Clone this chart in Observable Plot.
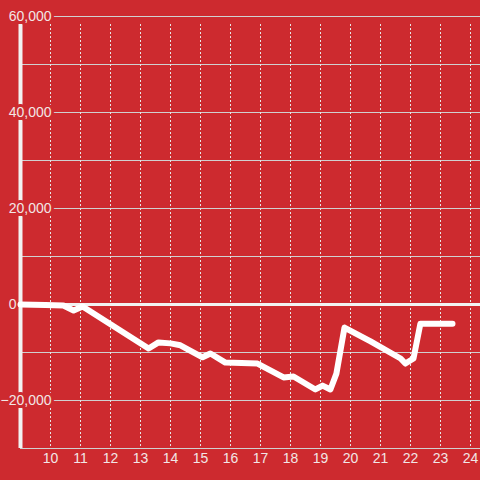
<!DOCTYPE html>
<html>
<head>
<meta charset="utf-8">
<script src="https://cdn.jsdelivr.net/npm/d3@7"></script>
<script src="https://cdn.jsdelivr.net/npm/@observablehq/plot@0.6"></script>
<style>
  html, body { margin: 0; padding: 0; background: #cd2a2f; }
  #chart { width: 480px; height: 480px; }
</style>
</head>
<body>
<div id="chart"></div>
<script>
const hours = [9.0, 9.83, 10.43, 10.77, 11.07, 13.27, 13.6, 14.0, 14.33, 15.07, 15.33, 15.83, 16.9, 17.77, 18.1, 18.83, 19.07, 19.33, 19.53, 19.8, 20.67, 21.67, 21.83, 22.1, 22.33, 23.4];
const values = [0, -100, -200, -1250, -400, -9170, -7900, -8100, -8500, -11000, -10200, -12100, -12300, -15200, -15000, -17700, -16900, -17700, -14400, -4800, -7700, -11250, -12300, -11250, -4000, -4000];
const xTicks = [10, 11, 12, 13, 14, 15, 16, 17, 18, 19, 20, 21, 22, 23, 24];
const yGrid = [-30000, -20000, -10000, 0, 10000, 20000, 30000, 40000, 50000, 60000];
const yLabels = [60000, 40000, 20000, -20000];

const data = hours.map((h, i) => ({h, v: values[i]}));
const bg = "#cd2a2f";
const txt = "#f2e6e6";
const fmt = d3.format(",");

const chart = Plot.plot({
  width: 480,
  height: 480,
  marginLeft: 20,
  marginRight: 0,
  marginTop: 16,
  marginBottom: 32,
  style: {background: bg, fontFamily: "'Liberation Sans', Arial, sans-serif"},
  x: {domain: [9, 24 + 1/3], axis: null},
  y: {domain: [-30000, 60000], axis: null},
  marks: [
    Plot.ruleY(yGrid, {stroke: "#d0d0d0", strokeWidth: 1}),
    Plot.ruleX(xTicks, {stroke: "#e6e6e6", strokeWidth: 1, strokeDasharray: "2,2", insetTop: 8}),
    Plot.ruleY([0], {stroke: "#f2f2f2", strokeWidth: 3}),
    Plot.ruleX([9], {stroke: "#f2f2f2", strokeWidth: 4, insetTop: 8}),
    Plot.line(data, {x: "h", y: "v", stroke: "#ffffff", strokeWidth: 6, strokeLinejoin: "round"}),
    Plot.text(yLabels, {x: 9, y: d => d, text: d => fmt(d), textAnchor: "end", dx: 31, fontSize: 14, fill: txt, stroke: bg, strokeWidth: 6}),
    Plot.text([0], {x: 9, y: d => d, text: d => fmt(d), textAnchor: "end", dx: -4, fontSize: 14, fill: txt}),
    Plot.text(xTicks, {x: d => d, frameAnchor: "bottom", dy: 14, text: d => String(d), fontSize: 14, fill: txt})
  ]
});
document.getElementById("chart").appendChild(chart);
</script>
</body>
</html>
